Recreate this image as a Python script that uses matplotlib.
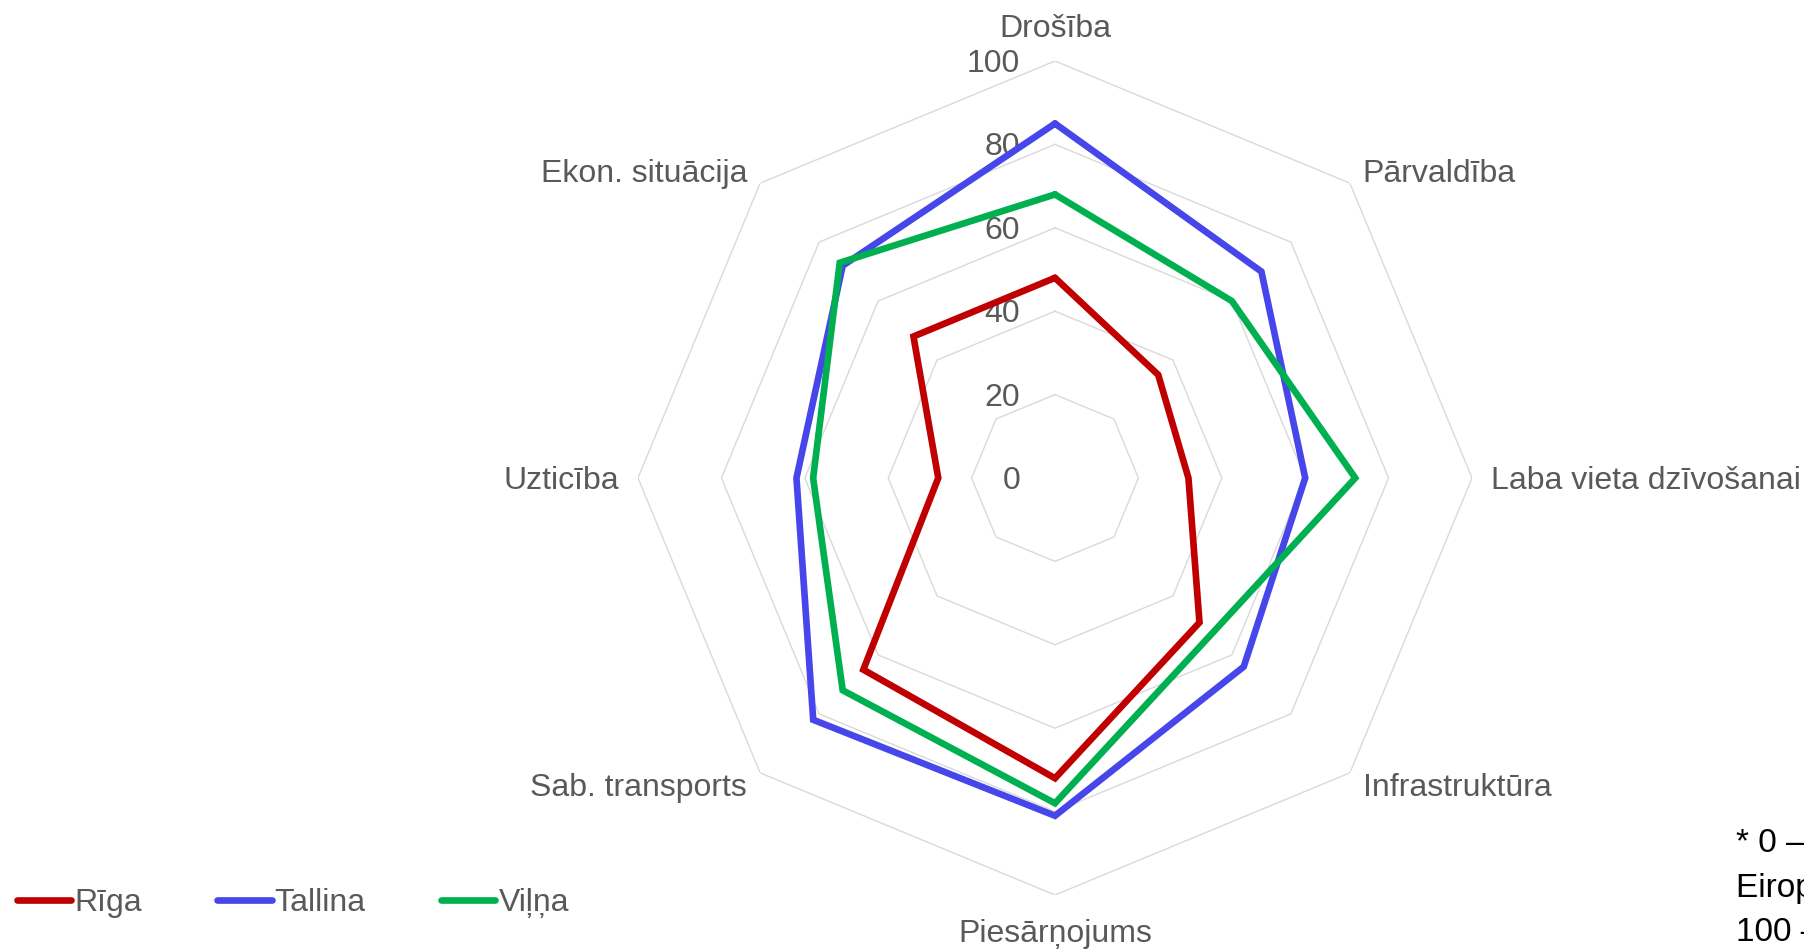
import numpy as np
import matplotlib.pyplot as plt
from matplotlib.transforms import offset_copy

plt.rcParams['font.family'] = ['Liberation Sans', 'DejaVu Sans']

# Indicators, clockwise from the top
categories = ['Drošība', 'Pārvaldība', 'Laba vieta dzīvošanai', 'Infrastruktūra',
              'Piesārņojums', 'Sab. transports', 'Uzticība', 'Ekon. situācija']

riga = [48, 35, 32, 49, 72, 65, 28, 48]
tallina = [85, 70, 60, 64, 81, 82, 62, 72]
vilna = [68, 60, 72, 53, 78, 72, 58, 73]

series_names = ['Rīga', 'Tallina', 'Viļņa']
ring_values = [20, 40, 60, 80, 100]
tick_values = [0, 20, 40, 60, 80, 100]

note = '* 0 – sliktākais novērtējums\nEiropas pilsētu vidū,\n100 – labākais novērtējums'

colors = ['#C00000', '#4646EB', '#00B050']
text_gray = '#595959'
fs = 23

W, H = 1804, 949
fig = plt.figure(figsize=(W / 100, H / 100), dpi=100)

# polar axes centred at (1055, 478) px, radius 417 px
cx, cy, rad = 1055, 478, 417
ax = fig.add_axes([(cx - rad) / W, (H - cy - rad) / H, 2 * rad / W, 2 * rad / H],
                  projection='polar')
ax.set_theta_offset(np.pi / 2)
ax.set_theta_direction(-1)
ax.set_ylim(0, 100)
ax.grid(False)
ax.set_xticks([])
ax.set_yticks([])
ax.spines['polar'].set_visible(False)
ax.patch.set_visible(False)

n = len(categories)
theta = np.arange(n) * 2 * np.pi / n
theta_closed = np.append(theta, theta[0])

# octagon grid rings
for r in ring_values:
    ax.plot(theta_closed, [r] * (n + 1), color='#D9D9D9', lw=1.0, zorder=1)

# radial value labels, left of the vertical axis
tick_tr = offset_copy(ax.transData, fig=fig, x=-35, y=-3, units='dots')
for v in tick_values:
    ax.text(0, v, str(v), transform=tick_tr, ha='right', va='center',
            fontsize=fs, color=text_gray)

# category labels around the outer ring
label_offsets = [(0, 32), (13, 9), (19, -3), (13, -15),
                 (0, -39), (-13, -15), (-19, -3), (-13, 9)]
label_ha = ['center', 'left', 'left', 'left', 'center', 'right', 'right', 'right']
for t, name, (dx, dy), ha in zip(theta, categories, label_offsets, label_ha):
    tr = offset_copy(ax.transData, fig=fig, x=dx, y=dy, units='dots')
    ax.text(t, 100, name, transform=tr, ha=ha, va='center',
            fontsize=fs, color=text_gray)

# city series
for vals, name, c in zip([riga, tallina, vilna], series_names, colors):
    ax.plot(theta_closed, vals + vals[:1], color=c, lw=4.8, label=name,
            solid_joinstyle='miter', solid_capstyle='round', zorder=3)

handles, labels = ax.get_legend_handles_labels()
leg = fig.legend(handles, labels, loc='center left', bbox_to_anchor=(17 / W, 1 - 903 / H),
                 ncol=3, frameon=False, fontsize=fs, borderpad=0, borderaxespad=0,
                 handlelength=1.7, handletextpad=0.1, columnspacing=2.35)
for txt in leg.get_texts():
    txt.set_color(text_gray)

fig.text(1736 / W, 1 - 888 / H, note, ha='left', va='center', fontsize=24,
         color='black', linespacing=1.55)

fig.savefig('out.png', dpi=100)
